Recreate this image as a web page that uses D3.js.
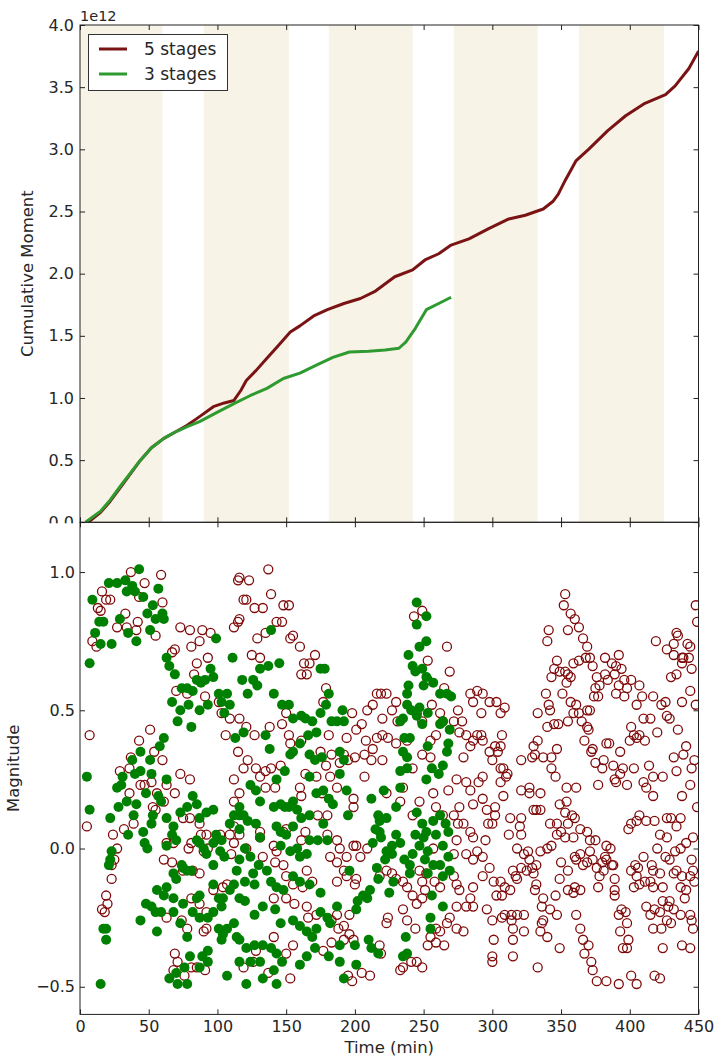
<!DOCTYPE html>
<meta charset="utf-8">
<style>
    body { margin: 0; background: #fff; }
    text { font-family: "DejaVu Sans", sans-serif; fill: #262626; }
</style>
<body>
<script src="https://cdn.jsdelivr.net/npm/d3@7"></script>
<script>
var width = 715,
    height = 1059;

// shaded stage windows, minutes
var stageStart = [0, 90, 181, 272, 363];
var stageEnd = [60, 152, 242, 333, 425];

var timeTicks = [0, 50, 100, 150, 200, 250, 300, 350, 400, 450];
var momentTicks = [0, 0.5, 1, 1.5, 2, 2.5, 3, 3.5, 4];
var magTicks = [-0.5, 0, 0.5, 1];

// cumulative moment (x 1e12)
var fiveTime = [6, 15, 22, 30, 44, 52, 61, 70, 78, 87, 97, 105, 112, 117, 121, 128, 136, 145, 153, 160, 170, 180, 192, 204, 215, 229, 242, 251, 261, 270, 283, 297, 312, 324, 337, 344, 348, 353, 361, 370, 384, 397, 411, 426, 433, 443, 450];
var fiveMoment = [0, 0.08, 0.17, 0.29, 0.50, 0.60, 0.675, 0.73, 0.78, 0.85, 0.93, 0.96, 0.98, 1.06, 1.14, 1.22, 1.32, 1.43, 1.53, 1.58, 1.66, 1.71, 1.76, 1.80, 1.86, 1.975, 2.03, 2.11, 2.16, 2.23, 2.28, 2.36, 2.44, 2.47, 2.52, 2.58, 2.64, 2.75, 2.91, 3.00, 3.15, 3.27, 3.37, 3.44, 3.51, 3.65, 3.79];
var threeTime = [4, 15, 22, 30, 44, 52, 61, 70, 78, 87, 99, 112, 124, 136, 148, 160, 172, 184, 196, 210, 222, 232, 237, 244, 252, 261, 270];
var threeMoment = [0, 0.09, 0.18, 0.30, 0.50, 0.60, 0.675, 0.73, 0.77, 0.81, 0.88, 0.955, 1.02, 1.077, 1.157, 1.20, 1.265, 1.326, 1.37, 1.375, 1.385, 1.40, 1.45, 1.56, 1.71, 1.76, 1.81];

// events: [time, magnitude]
var fiveMag = [
[37,1.00],[59,0.99],[47,0.96],[16,0.93],[22,0.90],[19,0.90],[13,0.87],[15,0.86],[33,0.85],[60,0.89],[43,0.91],[42,0.82],[34,0.80],[27,0.80],[55,0.77],[41,0.79],[9,0.75],[12,0.73],[73,0.80],[80,0.79],[89,0.79],[95,0.78],[87,0.75],[81,0.73],[67,0.71],[69,0.72],[93,0.69],[85,0.67],[83,0.63],[78,0.56],[70,0.57],[91,0.55],[101,0.53],[103,0.49],[109,0.47],[106,0.41],[116,0.47],[7,0.41],[51,0.43],[43,0.39],[37,0.33],[29,0.28],[36,0.29],[54,0.35],[60,0.32],[73,0.27],[80,0.25],[112,0.25],[115,0.35],[115,0.97],[112,0.80],[115,0.82],
[137,1.01],[123,0.97],[116,0.98],[139,0.92],[119,0.90],[121,0.90],[127,0.87],[133,0.87],[148,0.88],[152,0.88],[116,0.83],[143,0.82],[147,0.82],[135,0.78],[129,0.76],[153,0.76],[155,0.77],[160,0.73],[125,0.70],[131,0.69],[163,0.67],[167,0.67],[171,0.70],[161,0.63],[165,0.63],[179,0.58],[177,0.53],[150,0.49],[147,0.45],[138,0.44],[121,0.44],[127,0.41],[152,0.41],[153,0.38],[161,0.39],[181,0.41],[194,0.40],[201,0.43],[205,0.45],[198,0.49],[209,0.50],[213,0.52],[216,0.56],[219,0.56],[223,0.56],[230,0.53],[227,0.50],[231,0.46],[220,0.47],[216,0.40],[220,0.41],[224,0.40],[230,0.38],[238,0.39],[208,0.39],[213,0.36],[207,0.34],[220,0.32],[212,0.32],[200,0.33],[192,0.34],[195,0.32],[189,0.31],[183,0.34],[175,0.35],[179,0.30],[182,0.26],[172,0.26],[164,0.27],[146,0.30],[139,0.29],[135,0.28],[128,0.29],[122,0.32],[119,0.29],[131,0.26],[207,0.26],[242,0.29],[249,0.34],[255,0.39],[259,0.41],[264,0.46],[262,0.49],[249,0.46],[245,0.49],[256,0.52],[253,0.61],[267,0.73],[269,0.64],[265,0.58],[253,0.68],[249,0.86],[243,0.84],[284,0.56],[289,0.57],[286,0.53],[275,0.50],[278,0.46],[272,0.46],[276,0.42],[281,0.41],[289,0.41],[286,0.39],[284,0.37],[279,0.33],[274,0.25],[281,0.24],[290,0.24],[255,0.33],
[353,0.92],[352,0.88],[357,0.85],[360,0.83],[363,0.80],[355,0.79],[341,0.79],[340,0.75],[366,0.76],[369,0.73],[368,0.69],[363,0.68],[359,0.67],[347,0.68],[345,0.65],[349,0.64],[353,0.64],[355,0.63],[357,0.62],[354,0.60],[343,0.62],[351,0.56],[339,0.56],[341,0.52],[342,0.50],[333,0.49],[357,0.53],[361,0.52],[363,0.49],[359,0.49],[355,0.46],[345,0.45],[348,0.45],[340,0.44],[369,0.50],[371,0.50],[365,0.46],[369,0.44],[370,0.43],[367,0.39],[373,0.36],[372,0.35],[383,0.38],[385,0.38],[393,0.35],[403,0.41],[405,0.40],[407,0.41],[411,0.39],[400,0.39],[401,0.44],[410,0.47],[415,0.47],[405,0.52],[409,0.55],[417,0.55],[423,0.52],[426,0.53],[427,0.48],[429,0.47],[420,0.42],[435,0.43],[441,0.37],[439,0.34],[432,0.33],[447,0.32],[445,0.29],[434,0.28],[424,0.26],[417,0.26],[414,0.30],[403,0.29],[395,0.29],[388,0.30],[380,0.29],[381,0.32],[375,0.31],[371,0.69],[373,0.66],[376,0.62],[378,0.59],[375,0.58],[377,0.55],[374,0.55],[382,0.69],[387,0.67],[390,0.66],[392,0.70],[394,0.65],[389,0.63],[382,0.63],[384,0.61],[392,0.59],[390,0.56],[396,0.55],[398,0.58],[396,0.61],[401,0.61],[407,0.59],[419,0.75],[434,0.78],[435,0.77],[432,0.74],[427,0.72],[432,0.70],[438,0.69],[442,0.74],[444,0.73],[439,0.69],[443,0.69],[445,0.65],[438,0.67],[434,0.63],[430,0.62],[444,0.57],[438,0.53],[448,0.52],[448,0.88],[449,0.82],[343,0.33],[347,0.36],[337,0.33],[333,0.39],[330,0.37],[331,0.34],[329,0.33],[321,0.32],[343,0.29],[346,0.26],[389,0.25],[393,0.27],[293,0.56],[298,0.53],[303,0.53],[309,0.51],[306,0.49],[292,0.49],[307,0.41],[293,0.39],[292,0.41],[298,0.35],[302,0.37],[306,0.37],[304,0.35],[300,0.32],[306,0.29],[308,0.29],[311,0.27],[310,0.26],[306,0.24],[293,0.26],
[5,0.08],[24,0.05],[32,0.07],[39,0.09],[36,0.20],[44,0.23],[52,0.24],[56,0.20],[69,0.20],[61,0.17],[63,0.23],[75,0.11],[80,0.11],[87,0.09],[88,0.05],[92,0.05],[93,0.00],[102,0.05],[109,0.05],[112,0.08],[116,0.05],[112,0.17],[68,0.02],[63,0.02],[53,0.15],[55,0.14],[47,0.23],[27,0.00],[25,-0.04],[23,-0.06],[23,-0.11],[19,-0.17],[20,-0.20],[18,-0.23],[16,-0.22],[61,-0.04],[67,-0.05],[75,-0.08],[82,-0.08],[87,-0.09],[90,-0.01],[81,0.02],[79,0.00],[81,-0.18],[87,-0.20],[92,-0.23],[97,-0.15],[104,-0.14],[107,-0.13],[69,-0.38],[71,-0.41],[76,-0.46],[68,-0.44],[81,-0.43],[85,-0.43],[91,-0.44],[74,-0.26],[78,-0.29],[63,-0.25],[92,-0.29],[90,-0.30],[112,0.02],[110,-0.02],
[116,0.20],[135,0.22],[142,0.22],[160,0.22],[161,0.19],[176,0.20],[187,0.22],[199,0.18],[199,0.15],[180,0.12],[173,0.12],[164,0.06],[161,0.03],[148,0.06],[150,0.07],[131,0.06],[131,0.04],[141,0.01],[143,-0.01],[142,-0.05],[148,-0.06],[133,-0.03],[121,0.00],[180,0.05],[187,0.03],[189,0.00],[182,-0.03],[187,-0.05],[194,-0.03],[199,0.01],[201,0.01],[209,0.00],[204,-0.03],[192,-0.08],[194,-0.10],[201,-0.11],[200,-0.13],[187,-0.12],[165,-0.08],[169,-0.12],[162,-0.14],[150,-0.10],[155,-0.13],[141,-0.18],[150,-0.18],[156,-0.20],[165,-0.21],[166,-0.25],[172,-0.24],[187,-0.24],[183,-0.26],[188,-0.29],[192,-0.28],[196,-0.24],[196,-0.31],[199,-0.33],[192,-0.33],[183,-0.34],[177,-0.37],[155,-0.35],[150,-0.38],[141,-0.32],[128,-0.37],[126,-0.41],[119,-0.43],[137,-0.45],[153,-0.47],[195,-0.46],[198,-0.48],[205,-0.45],[211,-0.46],[218,-0.35],[219,-0.38],[223,-0.27],[224,-0.25],[235,-0.22],[238,-0.26],[244,-0.29],[255,-0.32],[253,-0.35],[259,-0.34],[265,-0.35],[249,-0.43],[245,-0.41],[241,-0.41],[233,-0.44],[235,-0.43],[259,-0.29],[262,-0.30],[267,-0.27],[269,-0.25],[274,-0.29],[279,-0.30],[274,-0.21],[281,-0.21],[286,-0.21],[284,-0.18],[286,-0.14],[274,-0.13],[276,-0.15],[272,-0.10],[262,-0.14],[258,-0.12],[252,-0.09],[249,-0.12],[251,-0.15],[249,-0.18],[245,-0.20],[242,-0.17],[238,-0.14],[235,-0.12],[230,-0.11],[227,-0.09],[223,-0.08],[218,-0.10],[242,0.12],[247,0.17],[257,0.20],[268,0.21],[284,0.21],[286,0.16],[276,0.15],[272,0.12],[275,0.09],[279,0.09],[284,0.06],[286,0.04],[289,-0.01],[286,-0.04],[281,-0.02],[274,0.03],[272,-0.02],[264,0.12],[259,0.15],[235,0.22],[223,0.20],[233,0.17],[247,-0.08],[257,0.00],
[296,0.14],[302,0.15],[302,0.12],[297,0.09],[300,0.09],[295,0.03],[293,-0.03],[298,-0.07],[293,-0.10],[301,-0.12],[306,-0.12],[303,-0.17],[307,-0.17],[296,-0.22],[300,-0.26],[313,-0.15],[309,-0.14],[318,-0.11],[315,-0.08],[317,-0.10],[321,-0.07],[318,0.00],[312,0.05],[313,0.11],[321,0.11],[320,0.08],[321,0.05],[323,-0.02],[326,-0.01],[327,-0.04],[329,-0.07],[325,-0.08],[330,-0.09],[332,-0.06],[335,-0.01],[340,0.00],[343,0.01],[347,0.05],[342,0.09],[347,0.09],[353,0.13],[354,0.17],[358,0.12],[360,0.11],[355,0.09],[350,0.06],[353,0.04],[359,0.04],[364,0.07],[369,0.06],[371,0.03],[375,0.03],[371,-0.01],[364,-0.02],[369,-0.05],[366,-0.06],[361,-0.04],[355,-0.08],[350,-0.05],[349,-0.11],[355,-0.15],[359,-0.16],[360,-0.14],[364,-0.15],[376,-0.07],[373,-0.04],[380,-0.05],[383,0.01],[386,0.00],[382,-0.03],[383,-0.04],[387,-0.06],[388,-0.06],[381,-0.08],[378,-0.10],[377,-0.14],[389,-0.11],[389,-0.17],[392,-0.24],[394,-0.22],[397,-0.23],[398,-0.27],[393,-0.30],[399,-0.33],[395,-0.36],[361,-0.24],[364,-0.29],[366,-0.33],[370,-0.35],[367,-0.38],[372,-0.41],[373,-0.44],[376,-0.48],[383,-0.48],[392,-0.49],[401,-0.46],[405,-0.49],[418,-0.46],[422,-0.47],[398,-0.36],[349,-0.36],[333,-0.43],[315,-0.39],[315,-0.33],[300,-0.41],[300,-0.39],[301,-0.33],[309,-0.24],[307,-0.25],[314,-0.24],[318,-0.24],[323,-0.24],[323,-0.30],[315,-0.29],[314,-0.26],[336,-0.27],[335,-0.30],[340,-0.32],[337,-0.26],[342,-0.22],[347,-0.24],[346,-0.17],[337,-0.18],[336,-0.21],[331,-0.15],[332,-0.13],[401,-0.08],[404,-0.06],[406,-0.07],[410,-0.03],[407,-0.13],[403,-0.14],[405,-0.10],[411,-0.12],[415,-0.12],[417,-0.14],[412,-0.21],[415,-0.24],[418,-0.22],[422,-0.23],[424,-0.19],[424,-0.14],[428,-0.21],[429,-0.19],[432,-0.22],[427,-0.26],[430,-0.27],[423,-0.29],[417,-0.29],[424,-0.36],[438,-0.35],[444,-0.36],[437,-0.24],[444,-0.24],[446,-0.29],[445,-0.26],[440,-0.18],[441,-0.15],[437,-0.14],[438,-0.10],[434,-0.08],[432,-0.09],[429,-0.04],[426,-0.03],[433,-0.01],[437,0.00],[441,0.02],[446,0.04],[445,-0.04],[446,-0.08],[447,-0.12],[444,-0.10],[427,0.04],[420,0.00],[416,-0.06],[417,-0.08],[422,-0.09],[399,0.07],[401,0.09],[405,0.10],[407,0.12],[412,0.10],[418,0.10],[422,0.05],[427,0.11],[430,0.11],[434,0.08],[437,0.11],[438,0.19],[444,0.23],[449,0.15],[417,0.19],[412,0.22],[410,0.24],[398,0.23],[390,0.24],[377,0.23],[361,0.22],[354,0.22],[335,0.20],[327,0.22],[327,0.20],[321,0.21],[308,0.19],[293,0.18],[330,0.14],[332,0.14],[335,0.14],[349,0.16],[360,-0.03],[389,-0.15]
];

var threeMag = [
[43,1.01],[21,0.96],[27,0.96],[33,0.97],[38,0.95],[40,0.93],[34,0.93],[57,0.94],[46,0.91],[9,0.90],[53,0.88],[49,0.85],[60,0.85],[55,0.83],[61,0.83],[14,0.82],[17,0.82],[29,0.83],[11,0.78],[51,0.79],[35,0.78],[41,0.75],[15,0.74],[23,0.74],[7,0.67],[63,0.69],[65,0.66],[69,0.63],[67,0.53],[74,0.58],[78,0.58],[82,0.57],[85,0.61],[88,0.60],[91,0.61],[95,0.65],[97,0.62],[99,0.76],[79,0.52],[73,0.50],[87,0.50],[93,0.52],[101,0.56],[107,0.56],[103,0.53],[105,0.49],[109,0.52],[71,0.46],[81,0.44],[111,0.69],[113,0.40],[61,0.40],[58,0.37],[44,0.35],[38,0.32],[51,0.32],[44,0.28],[52,0.27],[40,0.27],[31,0.26],[63,0.25],[5,0.26],
[245,0.89],[252,0.84],[245,0.81],[252,0.75],[247,0.73],[239,0.70],[242,0.66],[249,0.65],[244,0.64],[252,0.62],[257,0.60],[250,0.59],[239,0.59],[238,0.56],[238,0.52],[241,0.50],[247,0.51],[245,0.48],[235,0.47],[233,0.46],[249,0.45],[253,0.49],[262,0.45],[264,0.46],[269,0.43],[262,0.56],[267,0.56],[270,0.55],[268,0.38],[267,0.35],[253,0.37],[236,0.40],[240,0.40],[235,0.35],[238,0.33],[233,0.28],[238,0.29],[252,0.25],[256,0.29],[264,0.30],[261,0.27],[139,0.79],[145,0.67],[137,0.66],[131,0.65],[118,0.61],[126,0.61],[129,0.59],[122,0.56],[141,0.56],[147,0.52],[152,0.52],[175,0.65],[178,0.65],[181,0.56],[179,0.52],[175,0.49],[155,0.47],[161,0.48],[164,0.47],[169,0.46],[183,0.46],[187,0.46],[192,0.46],[191,0.50],[166,0.41],[172,0.42],[135,0.41],[119,0.42],[138,0.36],[160,0.38],[155,0.35],[153,0.34],[167,0.34],[171,0.32],[176,0.33],[189,0.35],[192,0.32],[189,0.27],[167,0.26],[143,0.25],[149,0.28],
[7,0.14],[22,0.11],[28,0.15],[34,0.17],[41,0.16],[48,0.20],[57,0.19],[59,0.17],[39,0.12],[53,0.12],[46,0.06],[35,0.05],[27,0.22],[30,0.23],[52,0.09],[73,0.13],[78,0.15],[85,0.16],[92,0.13],[87,0.11],[82,0.19],[97,0.14],[112,0.12],[116,0.12],[63,0.11],[67,0.05],[68,0.08],[47,0.02],[49,0.00],[23,-0.01],[22,-0.04],[21,-0.06],[63,0.01],[70,0.03],[75,-0.07],[78,-0.08],[81,-0.08],[74,-0.06],[85,0.03],[87,0.02],[90,0.00],[92,-0.02],[97,0.02],[102,-0.01],[105,-0.03],[68,-0.09],[70,-0.11],[56,-0.15],[61,-0.17],[68,-0.18],[63,-0.14],[75,-0.20],[85,-0.18],[87,-0.17],[82,-0.23],[87,-0.25],[93,-0.25],[101,-0.18],[104,-0.18],[103,-0.21],[97,-0.23],[101,-0.29],[107,-0.29],[104,-0.31],[103,-0.33],[112,-0.27],[114,-0.32],[44,-0.26],[48,-0.20],[52,-0.21],[55,-0.23],[56,-0.30],[59,-0.23],[68,-0.23],[73,-0.27],[78,-0.32],[19,-0.29],[17,-0.29],[19,-0.33],[15,-0.49],[65,-0.47],[70,-0.45],[71,-0.49],[76,-0.43],[80,-0.39],[89,-0.39],[93,-0.37],[78,-0.49],[93,-0.41],[87,-0.43],[107,-0.46],[116,-0.41],[114,-0.08],[112,-0.13],[109,-0.15],[97,-0.13],[109,0.09],[97,-0.06],[99,0.05],[103,0.03],
[124,0.23],[128,0.21],[131,0.17],[141,0.15],[146,0.16],[149,0.15],[152,0.15],[155,0.17],[158,0.14],[161,0.11],[167,0.12],[172,0.20],[177,0.21],[181,0.18],[184,0.16],[194,0.21],[195,0.12],[217,0.12],[218,0.10],[223,0.11],[215,0.07],[218,0.06],[219,0.04],[230,0.05],[233,0.02],[227,0.01],[223,-0.01],[227,-0.02],[222,-0.04],[213,0.02],[216,-0.07],[217,-0.11],[228,-0.12],[225,-0.16],[211,-0.15],[206,-0.17],[202,-0.19],[201,-0.22],[209,-0.18],[196,-0.08],[212,0.18],[221,0.21],[230,0.15],[233,0.22],[245,0.13],[244,0.05],[249,0.09],[247,0.01],[250,0.04],[252,0.06],[253,-0.01],[257,0.10],[262,0.12],[266,0.09],[268,0.06],[259,0.05],[264,0.01],[268,-0.03],[269,-0.08],[264,-0.10],[262,-0.06],[257,-0.06],[251,-0.04],[242,-0.02],[240,-0.06],[236,-0.04],[240,-0.09],[253,-0.09],[256,-0.17],[255,-0.25],[255,-0.29],[237,-0.32],[235,-0.39],[238,-0.38],[264,-0.21],[210,-0.33],[212,-0.36],[217,-0.38],[200,-0.35],[189,-0.35],[181,-0.39],[201,-0.42],[192,-0.47],[116,0.15],[119,0.12],[122,0.10],[128,0.09],[116,0.07],[120,0.00],[131,0.04],[143,0.08],[146,0.06],[150,0.05],[155,0.08],[146,0.01],[153,-0.01],[158,0.00],[160,-0.03],[165,-0.02],[167,0.03],[173,0.03],[177,0.09],[180,0.03],[116,-0.04],[124,-0.03],[130,-0.06],[136,-0.08],[126,-0.09],[120,-0.12],[127,-0.13],[139,-0.12],[143,-0.14],[148,-0.15],[155,-0.10],[160,-0.12],[167,-0.13],[175,-0.16],[116,-0.18],[120,-0.19],[133,-0.21],[127,-0.24],[142,-0.22],[146,-0.27],[155,-0.26],[160,-0.28],[165,-0.30],[169,-0.32],[172,-0.29],[175,-0.23],[180,-0.25],[182,-0.27],[187,-0.21],[171,-0.36],[165,-0.39],[160,-0.42],[147,-0.41],[143,-0.38],[139,-0.36],[133,-0.35],[127,-0.35],[121,-0.36],[116,-0.33],[124,-0.41],[131,-0.41],[141,-0.44],[121,-0.49],[143,-0.49],[133,-0.47],[189,-0.41]
];

var redLine = "#7a1414",
    greenLine = "#2f9a2f",
    redEdge = "#7f0a0a",
    greenFill = "#008000",
    bandFill = "#f8f3e7";

var left = 80, right = 698.5;
var topA = 25, topB = 522.3;
var botA = 522.3, botB = 1014.4;

var svg = d3.select("body").append("svg")
    .attr("width", width)
    .attr("height", height);

var x = d3.scaleLinear().domain([0, 450]).range([left, right]);
var yTop = d3.scaleLinear().domain([0, 4]).range([topB, topA]);
var yBot = d3.scaleLinear().domain([-0.6, 1.18]).range([botB, botA]);

var defs = svg.append("defs");
defs.append("clipPath").attr("id", "clipTop").append("rect")
    .attr("x", left).attr("y", topA).attr("width", right - left).attr("height", topB - topA);
defs.append("clipPath").attr("id", "clipBot").append("rect")
    .attr("x", left).attr("y", botA).attr("width", right - left).attr("height", botB - botA);

function styleAxis(g, labels) {
    g.select(".domain").remove();
    g.selectAll(".tick line").attr("stroke", "#222").attr("stroke-width", 1);
    g.selectAll("text").attr("font-family", "DejaVu Sans, sans-serif").attr("font-size", 16).attr("fill", "#262626");
    if (!labels) g.selectAll("text").remove();
}

// ---- top panel ----
var topPanel = svg.append("g");

topPanel.selectAll(".band")
    .data(stageStart)
    .enter().append("rect")
    .attr("class", "band")
    .attr("x", function (d) { return x(d); })
    .attr("y", topA)
    .attr("width", function (d, i) { return x(stageEnd[i]) - x(d); })
    .attr("height", topB - topA)
    .attr("fill", bandFill);

var lineFive = d3.line()
    .x(function (d, i) { return x(fiveTime[i]); })
    .y(function (d) { return yTop(d); });
var lineThree = d3.line()
    .x(function (d, i) { return x(threeTime[i]); })
    .y(function (d) { return yTop(d); });

var plotTop = topPanel.append("g").attr("clip-path", "url(#clipTop)");
plotTop.append("path")
    .attr("d", lineFive(fiveMoment))
    .attr("fill", "none")
    .attr("stroke", redLine)
    .attr("stroke-width", 3)
    .attr("stroke-linejoin", "round");
plotTop.append("path")
    .attr("d", lineThree(threeMoment))
    .attr("fill", "none")
    .attr("stroke", greenLine)
    .attr("stroke-width", 3)
    .attr("stroke-linejoin", "round");

topPanel.append("g").attr("transform", "translate(0," + topB + ")")
    .call(d3.axisBottom(x).tickValues(timeTicks).tickSize(-5).tickSizeOuter(0))
    .call(styleAxis, false);
topPanel.append("g").attr("transform", "translate(0," + topA + ")")
    .call(d3.axisTop(x).tickValues(timeTicks).tickSize(-5).tickSizeOuter(0))
    .call(styleAxis, false);
topPanel.append("g").attr("transform", "translate(" + left + ",0)")
    .call(d3.axisLeft(yTop).tickValues(momentTicks).tickSize(-5).tickSizeOuter(0).tickPadding(6).tickFormat(d3.format(".1f")))
    .call(styleAxis, true);
topPanel.append("g").attr("transform", "translate(" + right + ",0)")
    .call(d3.axisRight(yTop).tickValues(momentTicks).tickSize(-5).tickSizeOuter(0))
    .call(styleAxis, false);

topPanel.append("rect")
    .attr("x", left).attr("y", topA)
    .attr("width", right - left).attr("height", topB - topA)
    .attr("fill", "none").attr("stroke", "#222").attr("stroke-width", 1);

topPanel.append("text")
    .attr("x", left)
    .attr("y", 21)
    .attr("font-size", 14.5)
    .text("1e12");

topPanel.append("text")
    .attr("transform", "translate(33," + (topA + topB) / 2 + ") rotate(-90)")
    .attr("text-anchor", "middle")
    .attr("font-size", 16.5)
    .text("Cumulative Moment");

// legend
var legend = topPanel.append("g");
legend.append("rect")
    .attr("x", 88.5).attr("y", 34.5)
    .attr("width", 139).attr("height", 56)
    .attr("fill", "#fff").attr("stroke", "#333").attr("stroke-width", 1);
var legendItems = [["5 stages", redLine], ["3 stages", greenLine]];
legendItems.forEach(function (d, i) {
    var yy = 49 + i * 25;
    legend.append("line")
        .attr("x1", 99).attr("x2", 127)
        .attr("y1", yy).attr("y2", yy)
        .attr("stroke", d[1]).attr("stroke-width", 3);
    legend.append("text")
        .attr("x", 144).attr("y", yy + 6)
        .attr("font-size", 17)
        .text(d[0]);
});

// white strip: bottom panel hides lower half of the "0.0" label
svg.append("rect")
    .attr("x", 0).attr("y", topB + 1)
    .attr("width", width).attr("height", height - topB)
    .attr("fill", "#fff");

// ---- bottom panel ----
var botPanel = svg.append("g");
var plotBot = botPanel.append("g").attr("clip-path", "url(#clipBot)");

plotBot.selectAll(".five")
    .data(fiveMag)
    .enter().append("circle")
    .attr("class", "five")
    .attr("cx", function (d) { return x(d[0]); })
    .attr("cy", function (d) { return yBot(d[1]); })
    .attr("r", 4.5)
    .attr("fill", "none")
    .attr("stroke", redEdge)
    .attr("stroke-width", 1.3);

plotBot.selectAll(".three")
    .data(threeMag)
    .enter().append("circle")
    .attr("class", "three")
    .attr("cx", function (d) { return x(d[0]); })
    .attr("cy", function (d) { return yBot(d[1]); })
    .attr("r", 5)
    .attr("fill", greenFill);

botPanel.append("g").attr("transform", "translate(0," + botB + ")")
    .call(d3.axisBottom(x).tickValues(timeTicks).tickSize(-5).tickSizeOuter(0).tickPadding(6))
    .call(styleAxis, true);
botPanel.append("g").attr("transform", "translate(0," + botA + ")")
    .call(d3.axisTop(x).tickValues(timeTicks).tickSize(-5).tickSizeOuter(0))
    .call(styleAxis, false);
botPanel.append("g").attr("transform", "translate(" + left + ",0)")
    .call(d3.axisLeft(yBot).tickValues(magTicks).tickSize(-5).tickSizeOuter(0).tickPadding(5).tickFormat(d3.format(".1f")))
    .call(styleAxis, true);
botPanel.append("g").attr("transform", "translate(" + right + ",0)")
    .call(d3.axisRight(yBot).tickValues(magTicks).tickSize(-5).tickSizeOuter(0))
    .call(styleAxis, false);

botPanel.append("rect")
    .attr("x", left).attr("y", botA)
    .attr("width", right - left).attr("height", botB - botA)
    .attr("fill", "none").attr("stroke", "#222").attr("stroke-width", 1);

botPanel.append("text")
    .attr("transform", "translate(19," + (botA + botB) / 2 + ") rotate(-90)")
    .attr("text-anchor", "middle")
    .attr("font-size", 16.5)
    .text("Magnitude");

botPanel.append("text")
    .attr("x", (left + right) / 2)
    .attr("y", 1053)
    .attr("text-anchor", "middle")
    .attr("font-size", 16.5)
    .text("Time (min)");
</script>
